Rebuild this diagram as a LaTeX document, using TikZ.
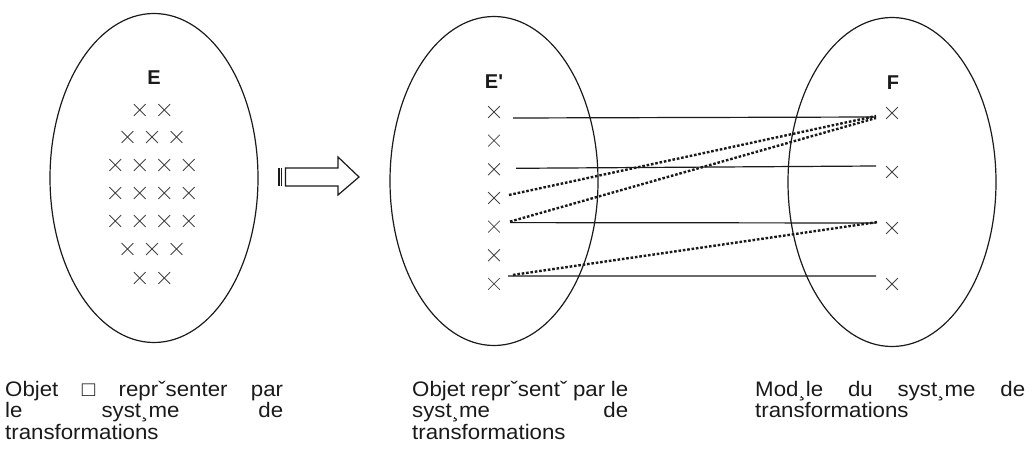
\documentclass[tikz,border=0pt]{standalone}
\usepackage{fontspec}
\setmainfont{Liberation Sans}[FakeStretch=1.06]
\newfontfamily\namefont{Liberation Sans Bold}
\usetikzlibrary{shapes.geometric,shapes.misc,calc}
\definecolor{ink}{HTML}{1A1A1A}
\definecolor{crossgray}{HTML}{444444}
\newcommand\jline[2]{\makebox[#1][s]{#2}}

\begin{document}
\begin{tikzpicture}[x=1pt, y=-1pt,
  set/.style={draw=ink, ellipse, line width=1.2pt, minimum width=208pt, minimum height=329pt, inner sep=0pt},
  setname/.style={font=\namefont\fontsize{20}{24}\selectfont, text=ink, inner sep=0pt},
  elt/.style={cross out, draw=crossgray, line width=0.8pt, minimum size=11pt, inner sep=0pt},
  img/.style={draw=ink, line width=1.2pt},
  alt/.style={draw=ink, line width=2.4pt, dash pattern=on 2.6pt off 1.8pt},
  caption/.style={anchor=north west, inner sep=0pt, align=left, font=\fontsize{21}{21.5}\selectfont, text=ink}
]
\useasboundingbox (0,0) rectangle (1032,454);

\node[set] (setE) at (154,178) {};
\node[set] (setEp) at (494,181) {};
\node[set] (setF) at (892,182) {};

\node[setname] (nameE) at (154,78) {E};
\node[setname] (nameEp) at (494,82) {E'};
\node[setname] (nameF) at (893,83) {F};

\foreach \n/\y [count=\r] in {2/110,3/137,4/165,4/193,4/221,3/249,2/278}
  \foreach \c in {1,...,\n}
    \node[elt] (e\r\c) at ({152+24.5*(\c-(\n+1)/2)},\y) {};
\foreach \i in {1,...,7}
  \node[elt] (ep\i) at (494,{112+28.65*(\i-1)}) {};
\foreach \i/\y in {1/113,2/172,3/228,4/284}
  \node[elt] (f\i) at (892,\y) {};

\fill[ink] (277.5,168) rectangle (279.8,186);
\fill[ink] (280.8,168) rectangle (282.4,186);
\draw[ink, line width=1.2pt] (285.5,168) -- (338,168) -- (338,157) -- (359,177) -- (338,195) -- (338,186) -- (285.5,186) -- cycle;

\draw[img] ($(ep1)+(19,6)$) -- ($(f1)+(-16,4)$);
\draw[img] ($(ep3)+(22,-1)$) -- ($(f2)+(-16,-6)$);
\draw[img] ($(ep5)+(16,-4)$) -- ($(f3)+(-16,-5)$);
\draw[img] ($(ep7)+(14,-8)$) -- ($(f4)+(-16,-8)$);
\draw[alt] ($(ep4)+(15,-3)$) -- ($(f1)+(-16,3)$);
\draw[alt] ($(ep5)+(16,-5)$) -- ($(f1)+(-16,5)$);
\draw[alt] ($(ep7)+(19,-9)$) -- ($(f3)+(-14,-6)$);

\node[caption] (capE) at (5,381) {\jline{278pt}{Objet □ reprˇsenter par}\\ \jline{278pt}{le syst¸me de}\\ transformations};
\node[caption] (capEp) at (412,381) {\jline{216pt}{Objet reprˇsentˇ par le}\\ \jline{216pt}{syst¸me de}\\ transformations};
\node[caption] (capF) at (755,381) {\jline{270pt}{Mod¸le du syst¸me de}\\ transformations};
\end{tikzpicture}
\end{document}
